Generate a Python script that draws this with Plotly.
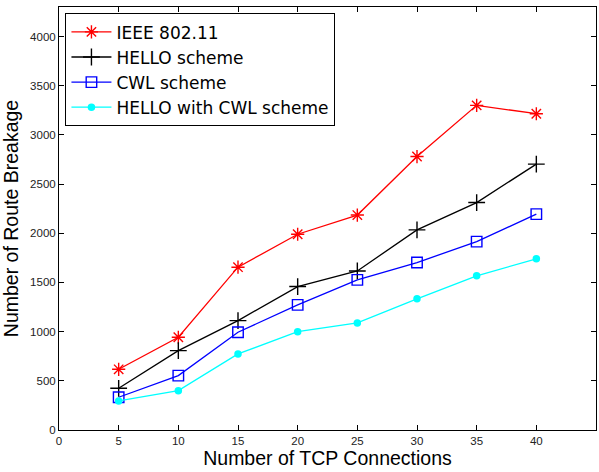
import plotly.graph_objects as go

connections = [5, 10, 15, 20, 25, 30, 35, 40]
ieee = [617, 943, 1655, 1990, 2185, 2780, 3300, 3215]
hello = [424, 807, 1112, 1458, 1617, 2034, 2312, 2703]
cwl = [333, 553, 994, 1272, 1526, 1702, 1915, 2194]
hello_cwl = [295, 400, 773, 1000, 1088, 1333, 1567, 1740]

names = ["IEEE 802.11", "HELLO scheme", "CWL scheme", "HELLO with CWL scheme"]
x_ticks = [0, 5, 10, 15, 20, 25, 30, 35, 40, 45]
y_ticks = [0, 500, 1000, 1500, 2000, 2500, 3000, 3500, 4000]

FONT = "Liberation Sans, Arial"

fig = go.Figure()
fig.add_trace(go.Scatter(x=connections, y=ieee, name=names[0], mode="lines+markers",
                         line=dict(color="red", width=1.3),
                         marker=dict(symbol="asterisk-open", size=11, color="red",
                                     line=dict(color="red", width=1.4))))
fig.add_trace(go.Scatter(x=connections, y=hello, name=names[1], mode="lines+markers",
                         line=dict(color="black", width=1.3),
                         marker=dict(symbol="cross-thin-open", size=12, color="black",
                                     line=dict(color="black", width=1.4))))
fig.add_trace(go.Scatter(x=connections, y=cwl, name=names[2], mode="lines+markers",
                         line=dict(color="blue", width=1.3),
                         marker=dict(symbol="square-open", size=10.5, color="blue",
                                     line=dict(color="blue", width=1.4))))
fig.add_trace(go.Scatter(x=connections, y=hello_cwl, name=names[3], mode="lines+markers",
                         line=dict(color="cyan", width=1.3),
                         marker=dict(symbol="circle", size=7.5, color="cyan")))

axis_common = dict(showgrid=False, zeroline=False, showline=True, linecolor="black",
                   linewidth=1, mirror="ticks", ticks="inside", ticklen=5,
                   tickcolor="black", tickfont=dict(family=FONT, size=11.5, color="#222"))

fig.update_xaxes(range=[0, 45], tickvals=x_ticks,
                 title=dict(text="Number of TCP Connections", standoff=2,
                            font=dict(family=FONT, size=19.5, color="black")),
                 **axis_common)
fig.update_yaxes(range=[0, 4300], tickvals=y_ticks,
                 title=dict(text="Number of Route Breakage", standoff=6,
                            font=dict(family=FONT, size=19.5, color="black")),
                 **axis_common)

fig.update_layout(
    width=599, height=472,
    margin=dict(l=59, r=3, t=7, b=42),
    plot_bgcolor="white", paper_bgcolor="white",
    legend=dict(x=0.012, y=0.985, xanchor="left", yanchor="top",
                bordercolor="black", borderwidth=1, bgcolor="white",
                font=dict(family="DejaVu Sans", size=17, color="black"),
                tracegroupgap=0, itemsizing="trace", itemwidth=40),
)

fig.write_html("out.html")
